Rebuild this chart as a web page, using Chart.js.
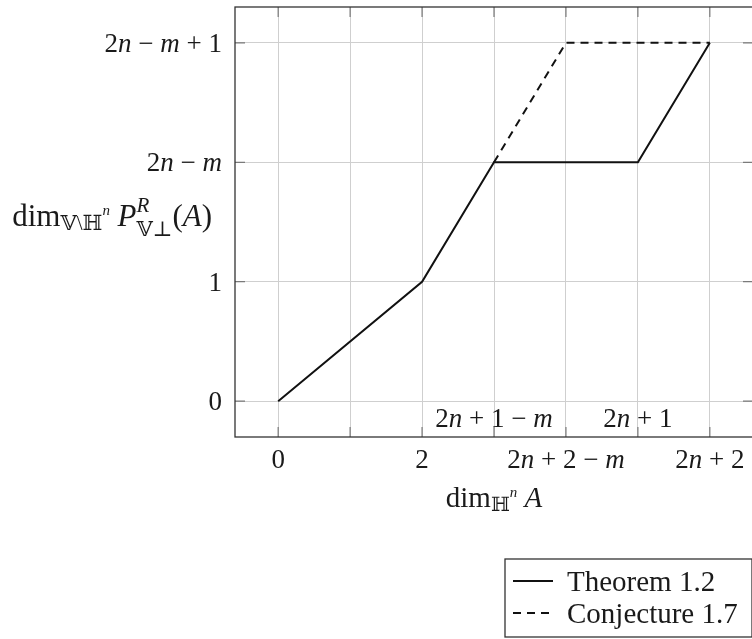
<!DOCTYPE html>
<html>
<head>
<meta charset="utf-8">
<script src="https://cdn.jsdelivr.net/npm/chart.js@4/dist/chart.umd.min.js"></script>
<style>
  html, body { margin: 0; padding: 0; background: #fff; overflow: hidden; }
  #wrap { width: 756px; height: 639px; }
</style>
</head>
<body>
<div id="wrap"><canvas id="chart" width="756" height="639"></canvas></div>
<script>
// data ($...$ marks italic math letters)
const theoremX = [0, 2, 3, 5, 6];
const theoremY = [0, 1, 2, 2, 3];
const conjectureX = [3, 4, 6];
const conjectureY = [2, 3, 3];
const seriesNames = ['Theorem 1.2', 'Conjecture 1.7'];

const xTickValues = [0, 2, 4, 6];
const xTickLabels = ['0', '2', '2$n$ + 2 − $m$', '2$n$ + 2'];
const xInnerValues = [3, 5];
const xInnerLabels = ['2$n$ + 1 − $m$', '2$n$ + 1'];
const yTickValues = [0, 1, 2, 3];
const yTickLabels = ['0', '1', '2$n$ − $m$', '2$n$ − $m$ + 1'];

const FONT = '"Liberation Serif", "DejaVu Serif", "DejaVu Sans", serif';
const BASE = 27;

function fontOf(r) {
    return (r.it ? 'italic ' : '') + (r.s || BASE) + 'px ' + FONT;
}

// turn '2$n$ + 1' into runs with italic letters
function parseLabel(str, size) {
    return str.split('$').map((t, i) => ({ t: t, it: i % 2 === 1, s: size })).filter(r => r.t.length);
}

// draws runs; r.stack puts a run under the previous one (sub + sup)
function drawRuns(ctx, runs, x, y, align) {
    let pen = 0, lastStart = 0;
    const placed = [];
    runs.forEach(r => {
        ctx.font = fontOf(r);
        const w = ctx.measureText(r.t).width;
        if (r.stack) {
            placed.push({ r: r, x: lastStart });
            pen = Math.max(pen, lastStart + w);
        } else {
            lastStart = pen;
            placed.push({ r: r, x: pen });
            pen += w;
        }
    });
    let x0 = x;
    if (align === 'center') x0 = x - pen / 2;
    if (align === 'right') x0 = x - pen;
    ctx.textBaseline = 'alphabetic';
    ctx.textAlign = 'left';
    placed.forEach(p => {
        ctx.font = fontOf(p.r);
        ctx.fillText(p.r.t, x0 + p.x, y + (p.r.dy || 0));
    });
}

const yTitle = [
    { t: 'dim', s: 31 }, { t: '𝕍\\ℍ', s: 21, dy: 4 }, { t: 'n', s: 15, it: true, dy: -11 },
    { t: ' ', s: 30 }, { t: 'P', s: 31, it: true }, { t: 'R', s: 21, it: true, dy: -14 },
    { t: '𝕍⊥', s: 21, dy: 10, stack: true }, { t: '(', s: 31 }, { t: 'A', s: 31, it: true }, { t: ')', s: 31 }
];
const xTitle = [
    { t: 'dim', s: 29 }, { t: 'ℍ', s: 20, dy: 4 }, { t: 'n', s: 15, it: true, dy: -10 },
    { t: ' ', s: 29 }, { t: 'A', s: 29, it: true }
];

const decor = {
    id: 'decor',
    afterDraw(chart) {
        const ctx = chart.ctx;
        const a = chart.chartArea;
        const xs = chart.scales.x, ys = chart.scales.y;
        ctx.save();

        // inward tick marks
        ctx.strokeStyle = '#7a7a7a';
        ctx.lineWidth = 1.2;
        ctx.beginPath();
        xs.ticks.forEach(t => {
            const px = xs.getPixelForValue(t.value);
            ctx.moveTo(px, a.bottom); ctx.lineTo(px, a.bottom - 10);
            ctx.moveTo(px, a.top); ctx.lineTo(px, a.top + 10);
        });
        ys.ticks.forEach(t => {
            const py = ys.getPixelForValue(t.value);
            ctx.moveTo(a.left, py); ctx.lineTo(a.left + 10, py);
            ctx.moveTo(a.right, py); ctx.lineTo(a.right - 10, py);
        });
        ctx.stroke();

        // frame
        ctx.strokeStyle = '#333';
        ctx.lineWidth = 1.3;
        ctx.strokeRect(a.left, a.top, a.right - a.left, a.bottom - a.top);

        ctx.fillStyle = '#1a1a1a';
        xTickValues.forEach((v, i) => {
            drawRuns(ctx, parseLabel(xTickLabels[i]), xs.getPixelForValue(v), a.bottom + 31, 'center');
        });
        xInnerValues.forEach((v, i) => {
            drawRuns(ctx, parseLabel(xInnerLabels[i]), xs.getPixelForValue(v), a.bottom - 10, 'center');
        });
        yTickValues.forEach((v, i) => {
            drawRuns(ctx, parseLabel(yTickLabels[i]), a.left - 13, ys.getPixelForValue(v) + 9, 'right');
        });

        drawRuns(ctx, xTitle, (a.left + a.right) / 2, a.bottom + 70, 'center');
        drawRuns(ctx, yTitle, a.left - 23, (a.top + a.bottom) / 2 + 4, 'right');

        // legend box, bottom right
        const bx = 505, by = 559, bw = chart.width - 4 - bx, bh = 637 - by;
        ctx.fillStyle = '#fff';
        ctx.fillRect(bx, by, bw, bh);
        ctx.strokeStyle = '#333';
        ctx.lineWidth = 1.3;
        ctx.strokeRect(bx, by, bw, bh);
        chart.data.datasets.forEach((ds, i) => {
            const cy = by + 22 + i * 32;
            ctx.strokeStyle = ds.borderColor;
            ctx.lineWidth = ds.borderWidth;
            ctx.setLineDash(ds.borderDash || []);
            ctx.beginPath();
            ctx.moveTo(bx + 8, cy); ctx.lineTo(bx + 48, cy);
            ctx.stroke();
            ctx.setLineDash([]);
            ctx.fillStyle = '#1a1a1a';
            drawRuns(ctx, [{ t: ds.label, s: 29 }], bx + 62, cy + 10, 'left');
        });
        ctx.restore();
    }
};

const onlyIntegers = scale => {
    scale.ticks = scale.ticks.filter(t => Number.isInteger(t.value));
};

new Chart(document.getElementById('chart'), {
    type: 'line',
    data: {
        datasets: [{
            label: seriesNames[0],
            data: theoremX.map((x, i) => ({ x: x, y: theoremY[i] })),
            borderColor: '#111',
            borderWidth: 2,
            pointRadius: 0,
            tension: 0
        }, {
            label: seriesNames[1],
            data: conjectureX.map((x, i) => ({ x: x, y: conjectureY[i] })),
            borderColor: '#111',
            borderWidth: 2,
            borderDash: [8, 6],
            pointRadius: 0,
            tension: 0
        }]
    },
    options: {
        responsive: false,
        animation: false,
        layout: { padding: { left: 235, top: 7, right: 3, bottom: 202 } },
        plugins: { legend: { display: false }, tooltip: { enabled: false } },
        scales: {
            x: {
                type: 'linear', min: -0.6, max: 6.6,
                ticks: { display: false, stepSize: 1 },
                grid: { color: '#cfcfcf', lineWidth: 1, drawTicks: false },
                border: { display: false },
                afterBuildTicks: onlyIntegers
            },
            y: {
                type: 'linear', min: -0.3, max: 3.3,
                ticks: { display: false, stepSize: 1 },
                grid: { color: '#cfcfcf', lineWidth: 1, drawTicks: false },
                border: { display: false },
                afterBuildTicks: onlyIntegers
            }
        }
    },
    plugins: [decor]
});
</script>
</body>
</html>
